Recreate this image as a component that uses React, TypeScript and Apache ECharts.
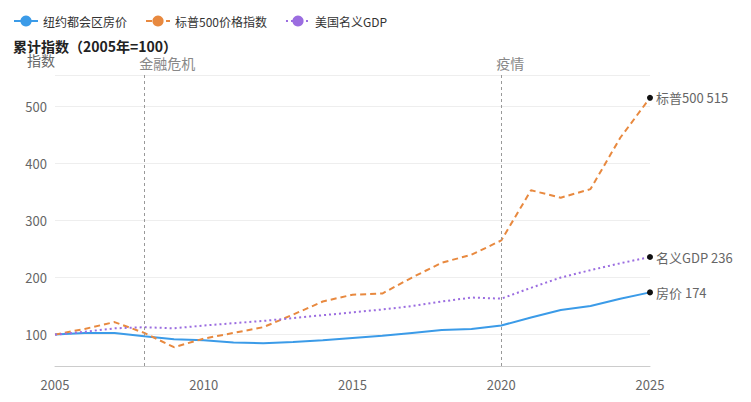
import React, { useEffect, useRef } from "react";
import * as echarts from "echarts";

const years = [2005,2006,2007,2008,2009,2010,2011,2012,2013,2014,2015,2016,2017,2018,2019,2020,2021,2022,2023,2024,2025];
const house = [100,103,103,97,92,90,86,85,87,90,94,98,103,108,110,116,130,143,150,163,174];
const sp500 = [100,110,122,103,78,93,103,113,135,158,170,172,200,226,240,265,353,340,355,445,515];
const gdp = [100,105,111,113,111,116,120,124,129,134,139,144,150,158,165,163,182,200,213,225,236];
const yTicks = [100,200,300,400,500];
const events = [{ x: 2008, name: "金融危机" }, { x: 2020, name: "疫情" }];

const FONT = "Noto Sans CJK SC";

function mk(name: string, vals: number[], color: string, type: any, endName: string, withMarks: boolean) {
  const data = vals.map((v, i) => {
    const p: any = { value: [years[i], v] };
    if (i === vals.length - 1) {
      p.symbol = "circle";
      p.symbolSize = 6;
      p.itemStyle = { color: "#111" };
    }
    return p;
  });
  const s: any = {
    name, type: "line", data, symbol: "none", showSymbol: true,
    lineStyle: { color, width: 2, type },
    itemStyle: { color },
    endLabel: { show: true, formatter: endName + " " + vals[vals.length - 1], color: "#666", fontSize: 13, fontFamily: FONT, distance: 6 },
  };
  if (withMarks) {
    s.markLine = {
      silent: true, symbol: "none",
      lineStyle: { color: "#999", type: [3, 3], width: 1 },
      label: { show: true, position: "insideEndTop", rotate: 0, formatter: "{b}", color: "#888", fontSize: 14, fontFamily: FONT, align: "left" },
      data: events.map(e => [{ coord: [e.x, 45], name: e.name }, { coord: [e.x, 555] }]),
    };
  }
  return s;
}

export default function App() {
  const ref = useRef<HTMLDivElement>(null);
  useEffect(() => {
    const chart = echarts.init(ref.current!, null, { renderer: "svg" });
    chart.setOption({
      animation: false,
      textStyle: { fontFamily: FONT },
      legend: {
        left: 0, top: 2, itemWidth: 24, itemGap: 18,
        textStyle: { fontSize: 12, color: "#333", fontFamily: FONT },
        data: ["纽约都会区房价", "标普500价格指数", "美国名义GDP"],
      },
      title: {
        text: "累计指数（2005年=100）", left: 0, top: 26,
        textStyle: { fontSize: 14, fontWeight: "bold", color: "#222", fontFamily: FONT },
      },
      grid: { left: 47, right: 93, top: 67, bottom: 28 },
      xAxis: {
        type: "value", min: 2005, max: 2025, interval: 5,
        axisLine: { lineStyle: { color: "#ccc" } },
        axisTick: { show: false },
        splitLine: { show: false },
        axisLabel: { color: "#666", fontSize: 13, margin: 12, formatter: (v: number) => String(v) },
      },
      yAxis: {
        type: "value", min: 45, max: 555,
        name: "指数", nameLocation: "end", nameGap: 8,
        nameTextStyle: { color: "#666", fontSize: 14, align: "right" },
        axisLine: { show: false }, axisTick: { show: false },
        axisLabel: { customValues: yTicks, color: "#666", fontSize: 13 },
        splitLine: { show: true, lineStyle: { color: "#eee" } },
      },
      series: [
        mk("纽约都会区房价", house, "#3b9be8", "solid", "房价", true),
        mk("标普500价格指数", sp500, "#e8893f", [6, 4], "标普500", false),
        mk("美国名义GDP", gdp, "#9b6de0", [2, 3], "名义GDP", false),
      ],
    });
    return () => chart.dispose();
  }, []);
  return <div ref={ref} style={{ width: 735, height: 386 }} />;
}
